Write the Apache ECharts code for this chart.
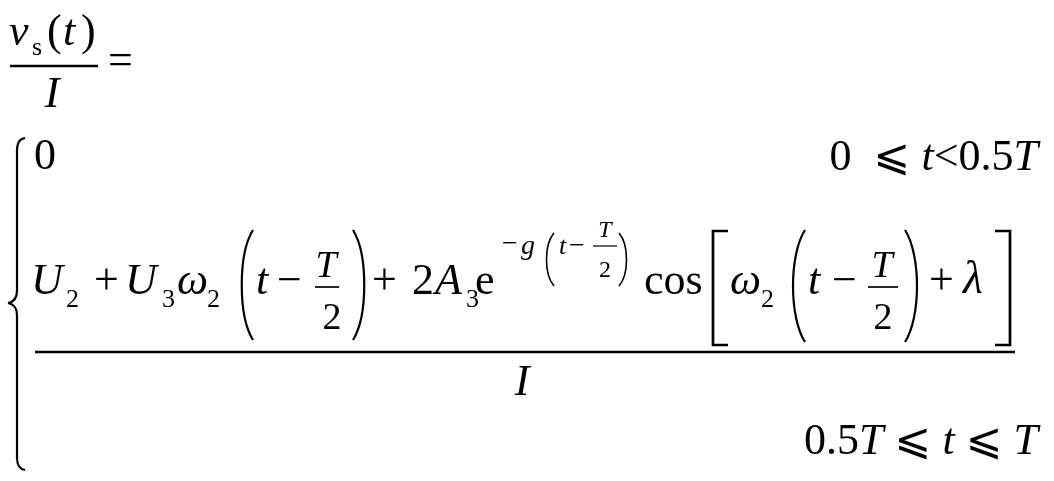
<!DOCTYPE html>
<html><head><meta charset="utf-8">
<script src="https://cdn.jsdelivr.net/npm/echarts@6/dist/echarts.min.js"></script>
<style>html,body{margin:0;padding:0;background:#fff}#c{width:1054px;height:481px}</style>
</head><body><div id="c"></div><script>
// ---- formula text content ----
const lhsTokens = ['v', 's', '(', 't', ')', 'I', '='];
const firstCaseValue = ['0'];
const firstCondition = ['0', '⩽', 't', '<', '0.5', 'T'];
const secondCondition = ['0.5', 'T', '⩽', 't', '⩽', 'T'];
const numeratorTokens = ['U', '2', '+', 'U', '3', 'ω', '2', 't', '−', 'T', '2', '+', '2', 'A', '3', 'e', 'cos', 'ω', '2', 't', '−', 'T', '2', '+', 'λ'];
const exponentTokens = ['−', 'g', 't', '−', 'T', '2'];
const denominatorTokens = ['I'];

// ---- layout (positions / sizes / styles) ----
const FONT = "'Liberation Serif','DejaVu Serif','DejaVu Sans',serif";
const MID = 0.34;
function txt(s, x, b, size, italic, align) {
  return {
    type: 'text', x: x, y: b - MID * size, silent: true,
    style: {
      text: s, fill: '#000',
      fontSize: size, fontFamily: FONT, fontStyle: italic ? 'italic' : 'normal',
      font: (italic ? 'italic ' : '') + size + 'px ' + FONT,
      align: align || 'left', textAlign: align || 'left',
      verticalAlign: 'middle', textVerticalAlign: 'middle'
    }
  };
}
function line(x1, y1, x2, y2, w) {
  return { type: 'line', silent: true, shape: { x1, y1, x2, y2 }, style: { stroke: '#000', lineWidth: w || 2.4 } };
}
function curve(x1, y1, cx1, cy1, cx2, cy2, x2, y2, w) {
  return { type: 'bezierCurve', silent: true, shape: { x1, y1, cpx1: cx1, cpy1: cy1, cpx2: cx2, cpy2: cy2, x2, y2 }, style: { stroke: '#000', lineWidth: w || 2.2, fill: null } };
}
function lparen(xl, xr, top, bot, w) {
  const h = bot - top;
  return curve(xr, top, xl, top + h * 0.22, xl, bot - h * 0.22, xr, bot, w);
}
function rparen(xl, xr, top, bot, w) {
  const h = bot - top;
  return curve(xl, top, xr, top + h * 0.22, xr, bot - h * 0.22, xl, bot, w);
}
function lbracket(xl, xr, top, bot) {
  return { type: 'polyline', silent: true, shape: { points: [[xr, top], [xl, top], [xl, bot], [xr, bot]] }, style: { stroke: '#000', lineWidth: 2.7, fill: null } };
}
function rbracket(xl, xr, top, bot) {
  return { type: 'polyline', silent: true, shape: { points: [[xl, top], [xr, top], [xr, bot], [xl, bot]] }, style: { stroke: '#000', lineWidth: 2.7, fill: null } };
}
const RICH = {
  n: { fontSize: 44, fontFamily: FONT, fill: '#000', fontStyle: 'normal' },
  i: { fontSize: 44, fontFamily: FONT, fill: '#000', fontStyle: 'italic' }
};

const els = [];
// left-hand side
els.push(txt(lhsTokens[0], 9, 48, 44, true));
els.push(txt(lhsTokens[1], 32, 57, 26, false));
els.push(txt(lhsTokens[2], 47, 48, 44, false));
els.push(txt(lhsTokens[3], 63, 48, 44, true));
els.push(txt(lhsTokens[4], 81, 48, 44, false));
els.push(line(10, 66, 98, 66, 2.4));
els.push(txt(lhsTokens[5], 52, 110, 44, true, 'center'));
els.push(txt(lhsTokens[6], 108, 77, 44, false));

// brace
els.push(curve(25, 138, 19, 139, 17, 143, 17, 152, 2.2));
els.push(line(17, 151, 17, 292, 2.2));
els.push(curve(17, 291, 17, 298, 13, 302, 8, 303, 2.2));
els.push(curve(8, 303, 13, 304, 17, 308, 17, 315, 2.2));
els.push(line(17, 314, 17, 458, 2.2));
els.push(curve(17, 457, 17, 465, 19, 469, 25, 470, 2.2));

// first case
els.push(txt(firstCaseValue[0], 34, 172, 44, false));
els.push({
  type: 'text', x: 1038, y: 173 - MID * 44, silent: true,
  style: {
    text: '{n|' + firstCondition[0] + '}  {n|' + firstCondition[1] + '} {i|' + firstCondition[2] + '}{n|' + firstCondition[3] + '}{n|' + firstCondition[4] + '}{i|' + firstCondition[5] + '}',
    align: 'right', textAlign: 'right', verticalAlign: 'middle', textVerticalAlign: 'middle',
    rich: RICH, fontSize: 44, fontFamily: FONT, fill: '#000'
  }
});

// numerator
const nLayout = [
  [31, 297, 44, true], [66, 309, 26, false], [94, 297, 44, false], [125, 297, 44, true], [162, 309, 26, false],
  [177, 297, 44, true], [207, 309, 26, false], [256, 297, 44, true], [277, 297, 44, false],
  [326, 280, 38, true, 'center'], [332, 332, 38, false, 'center'], [372, 297, 44, false],
  [412, 297, 44, false], [435, 297, 44, true], [466, 309, 26, false], [475, 297, 44, false],
  [644, 297, 44, false], [730, 297, 44, true], [761, 309, 26, false], [808, 297, 44, true],
  [832, 297, 44, false], [882, 280, 38, true, 'center'], [883, 332, 38, false, 'center'],
  [929, 297, 44, false], [963, 297, 46, true]
];
numeratorTokens.forEach((s, i) => { const L = nLayout[i]; els.push(txt(s, L[0], L[1], L[2], L[3], L[4])); });
els.push(lparen(238, 253, 230, 340));
els.push(line(315, 287, 339, 287, 1.7));
els.push(rparen(353, 368, 230, 340));
els.push(lbracket(713, 728, 231, 345));
els.push(lparen(789, 805, 230, 342));
els.push(line(868, 287, 898, 287, 1.7));
els.push(rparen(905, 921, 230, 342));
els.push(rbracket(995, 1010, 231, 345));

// exponent
const eLayout = [
  [502, 254, 28, false], [521, 256, 28, true], [559, 256, 26, true], [569, 256, 28, false],
  [605, 239, 24, true, 'center'], [605, 279, 24, false, 'center']
];
exponentTokens.forEach((s, i) => { const L = eLayout[i]; els.push(txt(s, L[0], L[1], L[2], L[3], L[4])); });
els.push(lparen(544, 554, 233, 286, 1.6));
els.push(line(593, 246, 617, 246, 1.2));
els.push(rparen(619, 629, 233, 286, 1.6));

// main fraction bar and denominator
els.push(line(35, 352, 1015, 352, 2.7));
els.push(txt(denominatorTokens[0], 522, 398, 44, true, 'center'));

// second condition
els.push({
  type: 'text', x: 1038, y: 457 - MID * 44, silent: true,
  style: {
    text: '{n|' + secondCondition[0] + '}{i|' + secondCondition[1] + '} {n|' + secondCondition[2] + '} {i|' + secondCondition[3] + '} {n|' + secondCondition[4] + '} {i|' + secondCondition[5] + '}',
    align: 'right', textAlign: 'right', verticalAlign: 'middle', textVerticalAlign: 'middle',
    rich: RICH, fontSize: 44, fontFamily: FONT, fill: '#000'
  }
});

const chart = echarts.init(document.getElementById('c'), null, { renderer: 'canvas' });
chart.setOption({ backgroundColor: '#fff', animation: false, graphic: { elements: els } });
</script></body></html>
